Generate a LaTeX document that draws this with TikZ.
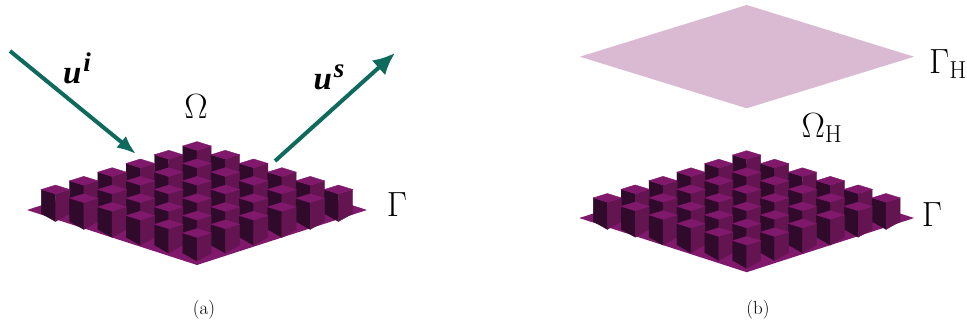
\documentclass[tikz,border=0pt]{standalone}
\usepackage{fix-cm}
\usepackage{fontspec}
\usetikzlibrary{arrows.meta}
\newfontfamily\wavefont{Liberation Serif}
\definecolor{plum}{HTML}{80196B}
\definecolor{plumside}{HTML}{631451}
\definecolor{plumdark}{HTML}{300A2B}
\definecolor{lilac}{HTML}{DAB9D2}
\definecolor{wave}{HTML}{0E6A5C}
\newcommand{\wavelabel}[1]{{\wavefont\itshape\bfseries u\kern2pt\raisebox{12pt}{\fontsize{27}{28}\selectfont #1}}}
\tikzset{
  bigtext/.style={font=\fontsize{35}{42}\selectfont},
  wavetext/.style={font=\fontsize{33}{40}\selectfont},
  captext/.style={font=\fontsize{19}{22}\selectfont},
  wavearrow/.style 2 args={wave,line width=4pt,-{Latex[length=#1pt,width=#2pt]}},
  blockgrid/.pic={
    \fill[plum] (-170,64)--(0,9)--(170,64)--(0,119)--cycle;
    \foreach \i in {0,...,5}{
      \foreach \j in {0,...,5}{
        \pgfmathsetmacro{\cx}{28.3*(\i-\j)}
        \pgfmathsetmacro{\cy}{8.7*(\i+\j)}
        \pgfmathsetmacro{\hh}{28+abs(\i-\j)*.8}
        \begin{scope}[shift={(\cx,\cy)},line width=.4pt]
          \filldraw[plumdark] (-14.2,0)--(0,4.4)--(0,\hh)--(-14.2,\hh-8)--cycle;
          \filldraw[plumside] (14.2,0)--(0,4.4)--(0,\hh)--(14.2,\hh-8)--cycle;
          \filldraw[plum] (-14.2,0)--(0,-4.4)--(14.2,0)--(0,4.4)--cycle;
        \end{scope}
      }
    }
  }
}

\begin{document}
\begin{tikzpicture}[x=1pt,y=-1pt]
  \useasboundingbox (0,0) rectangle (967,328);

  \pic at (197,146) {blockgrid};
  \coordinate (instart) at (10,51);
  \coordinate (inend) at (136,154);
  \coordinate (outstart) at (275,161);
  \coordinate (outend) at (395,53);
  \draw[wavearrow={19}{15}] (instart)--(inend);
  \draw[wavearrow={22}{20}] (outstart)--(outend);
  \node[wavetext] (incident) at (77,68.5) {\wavelabel{i}};
  \node[wavetext] (scattered) at (329,77) {\wavelabel{s}};
  \node[bigtext] (omega) at (196,107) {$\Omega$};
  \node[bigtext] (gammaa) at (397,205) {$\Gamma$};
  \node[captext] (capa) at (204,310) {(a)};

  \fill[lilac] (580,56.7)--(746.7,5)--(914,56.7)--(746.7,108.3)--cycle;
  \pic[scale=.985] at (746.7,155) {blockgrid};
  \node[bigtext] (gammah) at (948,64) {$\Gamma_{\mathrm{H}}$};
  \node[bigtext] (omegah) at (822,128) {$\Omega_{\mathrm{H}}$};
  \node[bigtext] (gammab) at (932,215) {$\Gamma$};
  \node[captext] (capb) at (758,310) {(b)};
\end{tikzpicture}
\end{document}
